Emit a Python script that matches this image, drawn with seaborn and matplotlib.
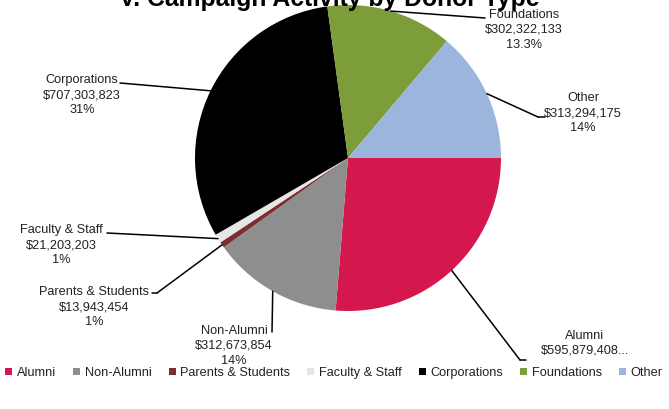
import matplotlib
matplotlib.use("Agg")
import matplotlib.pyplot as plt
from matplotlib.patches import Patch
import numpy as np
import seaborn as sns

# data
donor_types = ["Alumni", "Non-Alumni", "Parents & Students", "Faculty & Staff",
               "Corporations", "Foundations", "Other"]
amounts = [595879408, 312673854, 13943454, 21203203, 707303823, 302322133, 313294175]
label_texts = [
    "Alumni\n$595,879,408...",
    "Non-Alumni\n$312,673,854\n14%",
    "Parents & Students\n$13,943,454\n1%",
    "Faculty & Staff\n$21,203,203\n1%",
    "Corporations\n$707,303,823\n31%",
    "Foundations\n$302,322,133\n13.3%",
    "Other\n$313,294,175\n14%",
]
slice_colors = ["#D4174C", "#8E8E8E", "#7C2D2F", "#E6E6E6", "#000000", "#7D9D3B", "#9CB5DC"]
title = "V. Campaign Activity by Donor Type"

W, H = 669, 409

sns.set_theme(style="white")
plt.rcParams["font.family"] = ["Liberation Sans", "DejaVu Sans"]
palette = sns.color_palette(slice_colors)

fig = plt.figure(figsize=(W / 100, H / 100), dpi=100)
# pie occupies pixel box x 195..501, y 5..311 (from top)
ax = fig.add_axes([195 / W, (H - 311) / H, 306 / W, 306 / H])
wedges, _ = ax.pie(amounts, colors=palette, startangle=0, counterclock=False,
                   radius=1, wedgeprops=dict(linewidth=0))
ax.set_xlim(-1, 1)
ax.set_ylim(-1, 1)
ax.set_aspect("equal")
ax.axis("off")

# label layout in pixels from top-left: text centre, leader end, elbow
label_pos = [(585, 343), (234, 346), (94, 307), (61, 245), (82, 95), (524, 30), (583, 113)]
leader_end = [(520, 360), (272, 332), (157, 293), (107, 233), (120, 83), (485, 18), (538, 117)]
leader_tail = [(526, 360), None, (152, 293), None, None, None, (545, 117)]

for w, txt, (tx, ty), (ex, ey), tail in zip(wedges, label_texts, label_pos, leader_end, leader_tail):
    ang = np.deg2rad((w.theta1 + w.theta2) / 2)
    anchor = (np.cos(ang), np.sin(ang))
    ax.annotate("", xy=anchor, xycoords="data", xytext=(ex, H - ey),
                textcoords="figure pixels",
                arrowprops=dict(arrowstyle="-", color="black", lw=1.1,
                                shrinkA=0, shrinkB=0))
    if tail is not None:
        ax.annotate("", xy=(ex, H - ey), xycoords="figure pixels",
                    xytext=(tail[0], H - tail[1]), textcoords="figure pixels",
                    arrowprops=dict(arrowstyle="-", color="black", lw=1.1,
                                    shrinkA=0, shrinkB=0))
    fig.text(tx / W, 1 - ty / H, txt, ha="center", va="center", fontsize=9.2,
             color="#222222", linespacing=1.3)

fig.text(329 / W, 1 - 6 / H, title, ha="center", va="baseline",
         fontsize=17.8, fontweight="bold", color="black")

handles = [Patch(facecolor=c, edgecolor="none") for c in palette]
fig.legend(handles, donor_types, loc="center", ncol=7, frameon=False,
           bbox_to_anchor=(334 / W, 1 - 373 / H), fontsize=9.2,
           handlelength=0.55, handleheight=0.55, handletextpad=0.35,
           columnspacing=1.35, labelcolor="#222222")

fig.savefig("out.png", dpi=100)
